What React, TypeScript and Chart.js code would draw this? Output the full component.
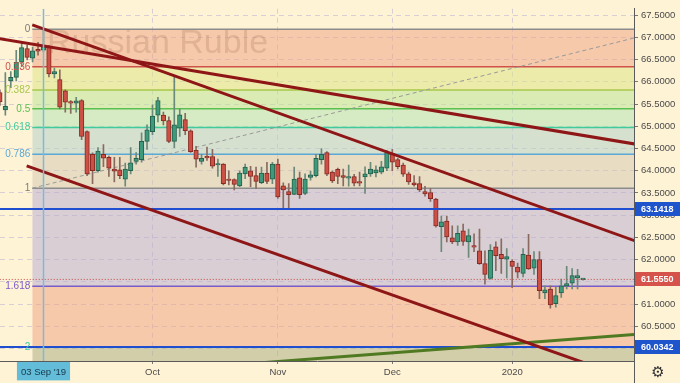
import React, { useEffect, useRef } from 'react';
import { Chart, registerables } from 'chart.js';

Chart.register(...registerables);

const FONT = '"Liberation Sans", Arial, sans-serif';

// bar index of the first candle; bar 0 = 03 Sep '19 (one bar per trading day)
const FIRST_BAR = -8;

const opens = [
  65.76, 65.37, 66.02, 66.10, 66.44, 66.75, 66.53, 66.73, 66.71, 66.80,
  66.18, 66.05, 65.80, 65.55, 65.52, 65.58, 64.88, 64.37, 64.00, 64.37,
  64.30, 64.04, 64.02, 63.81, 64.00, 64.21, 64.25, 64.66, 64.88, 65.25,
  65.25, 65.13, 64.66, 64.96, 65.15, 64.90, 64.46, 64.21, 64.31, 64.32,
  64.13, 64.15, 63.80, 63.80, 63.66, 63.93, 64.00, 63.89, 63.73, 63.95,
  63.81, 64.15, 63.66, 63.53, 63.47, 63.84, 63.49, 63.85, 63.89, 64.25,
  64.41, 63.97, 64.03, 63.89, 63.83, 63.87, 63.75, 63.86, 63.93, 63.95,
  63.97, 64.06, 64.39, 64.25, 64.13, 63.93, 63.73, 63.71, 63.53, 63.51,
  63.36, 62.74, 62.87, 62.49, 62.40, 62.65, 62.40, 62.31, 62.20, 61.91,
  61.58, 62.29, 62.12, 62.01, 61.96, 61.83, 61.69, 62.10, 61.81, 62.00,
  61.25, 61.34, 61.01, 61.25, 61.41, 61.47, 61.59, 61.55,
];
const highs = [
  65.82, 66.21, 66.23, 66.71, 66.89, 66.82, 66.78, 66.89, 67.18, 66.82,
  66.31, 66.27, 65.82, 65.58, 65.65, 65.60, 64.90, 64.40, 64.52, 64.59,
  64.33, 64.30, 64.30, 64.17, 64.52, 64.41, 64.85, 65.03, 65.48, 65.65,
  65.32, 65.21, 66.13, 65.39, 65.29, 64.92, 64.55, 64.37, 64.53, 64.48,
  64.26, 64.16, 64.00, 63.82, 64.00, 64.15, 64.10, 64.08, 64.08, 64.19,
  64.19, 64.26, 63.73, 63.71, 64.08, 63.97, 63.93, 63.99, 64.37, 64.50,
  64.43, 64.00, 64.06, 64.04, 64.13, 63.92, 63.97, 64.09, 64.19, 64.11,
  64.21, 64.46, 64.48, 64.28, 64.17, 63.97, 63.89, 63.87, 63.65, 63.60,
  63.38, 62.98, 62.98, 62.76, 62.76, 62.80, 62.69, 62.58, 62.69, 62.20,
  62.34, 62.40, 62.47, 62.25, 62.00, 61.92, 62.25, 62.57, 62.18, 62.18,
  61.41, 61.41, 61.39, 61.56, 61.85, 61.80, 61.78, 61.58,
];
const lows = [
  65.47, 65.25, 65.87, 66.02, 66.34, 66.49, 66.45, 66.60, 66.67, 66.11,
  66.09, 65.39, 65.32, 65.29, 65.32, 64.70, 63.89, 63.71, 63.97, 64.09,
  63.87, 63.75, 63.82, 63.65, 63.93, 64.15, 64.19, 64.48, 64.81, 65.10,
  65.03, 64.63, 64.52, 64.77, 64.81, 64.41, 64.08, 64.15, 64.23, 64.06,
  63.87, 63.68, 63.68, 63.57, 63.64, 63.82, 63.64, 63.60, 63.71, 63.71,
  63.71, 63.38, 63.16, 63.16, 63.46, 63.38, 63.46, 63.79, 63.86, 64.15,
  63.89, 63.73, 63.71, 63.66, 63.65, 63.66, 63.66, 63.49, 63.87, 63.86,
  63.93, 64.00, 64.00, 64.04, 63.87, 63.69, 63.65, 63.53, 63.43, 63.31,
  62.73, 62.18, 62.40, 62.36, 62.32, 62.32, 62.05, 62.18, 61.89, 61.45,
  61.56, 61.75, 61.69, 61.59, 61.37, 61.59, 61.61, 61.78, 61.67, 61.12,
  61.12, 60.91, 60.93, 61.15, 61.34, 61.34, 61.34, 61.54,
];
const closes = [
  65.55, 65.45, 66.10, 66.44, 66.77, 66.55, 66.70, 66.69, 66.78, 66.18,
  66.23, 65.43, 65.54, 65.52, 65.57, 64.77, 63.93, 64.00, 64.44, 64.28,
  64.06, 63.99, 63.89, 64.04, 64.18, 64.28, 64.66, 64.92, 65.23, 65.58,
  65.12, 64.66, 65.03, 65.26, 64.90, 64.43, 64.26, 64.28, 64.29, 64.10,
  64.15, 63.71, 63.78, 63.69, 63.95, 64.08, 63.87, 63.76, 63.95, 63.76,
  64.15, 63.41, 63.57, 63.46, 63.81, 63.46, 63.81, 63.91, 64.28, 64.37,
  63.92, 63.77, 63.87, 63.85, 63.87, 63.72, 63.72, 63.93, 64.04, 64.02,
  64.09, 64.41, 64.19, 64.09, 63.92, 63.75, 63.68, 63.57, 63.48, 63.37,
  62.76, 62.85, 62.51, 62.40, 62.59, 62.41, 62.54, 62.28, 61.91, 61.67,
  62.21, 62.09, 62.02, 62.07, 61.85, 61.72, 62.12, 61.79, 62.00, 61.30,
  61.32, 60.98, 61.19, 61.41, 61.46, 61.64, 61.64, 61.56,
];

const X_MIN = -7.98;
const X_MAX = 108.35;
const Y_MIN = 59.72;
const Y_MAX = 67.645;

const monthTickBars = [20, 43, 64, 86];
const monthTickLabels = ['Oct', 'Nov', 'Dec', '2020'];
const cursorBar = 0;
const cursorLabel = "03 Sep '19";

const priceTicks = [60, 60.5, 61, 61.5, 62, 62.5, 63, 63.5, 64, 64.5, 65, 65.5, 66, 66.5, 67, 67.5];

const fibLevels = [0, 0.236, 0.382, 0.5, 0.618, 0.786, 1, 1.618, 2];
const fibLabels = ['0', '0.236', '0.382', '0.5', '0.618', '0.786', '1', '1.618', '2'];
const fibLineColors = ['#8c8c8c', '#d0504a', '#a9c84a', '#5cc050', '#3fcb9c', '#5aa8d6', '#8c8c8c', '#7a5cc8', '#3fc8a0'];
const fibFillColors = [
  'rgba(0,0,0,0)',
  'rgba(237,165,134,0.55)',
  'rgba(221,227,134,0.55)',
  'rgba(188,230,152,0.55)',
  'rgba(180,227,180,0.55)',
  'rgba(180,208,203,0.55)',
  'rgba(213,201,181,0.55)',
  'rgba(184,174,210,0.55)',
  'rgba(237,165,134,0.55)',
];
const fibBottomFill = 'rgba(173,174,134,0.55)';
const fibAnchorLow = { x: -2.06, y: 63.607 };
const fibAnchorHigh = { x: 114.7, y: 67.18 };

const supportLevels = [63.1418, 60.0342];
const lastPrice = 61.555;

const trendA = [{ x: -10, y: 67.01 }, { x: 112, y: 64.53 }];
const trendB = [{ x: -2.06, y: 67.28 }, { x: 112, y: 62.27 }];
const trendC = [{ x: -3.09, y: 64.11 }, { x: 105, y: 59.43 }];
const trendGreen = [{ x: 40, y: 59.68 }, { x: 112, y: 60.35 }];

const title = 'Russian Ruble';

const fibPrice = (lvl: number) => fibAnchorHigh.y - lvl * (fibAnchorHigh.y - fibAnchorLow.y);

export default function App() {
  const ref = useRef<HTMLCanvasElement>(null);

  useEffect(() => {
    document.body.style.margin = '0';
    const canvas = ref.current!;
    const bars = opens.map((_, k) => FIRST_BAR + k);
    const up = closes.map((c, k) => c >= opens[k]);

    const datasets: any[] = [];
    fibLevels.forEach((lvl, k) => {
      const p = fibPrice(lvl);
      datasets.push({
        type: 'line',
        data: [{ x: fibAnchorLow.x, y: p }, { x: fibAnchorHigh.x, y: p }],
        borderColor: fibLineColors[k],
        borderWidth: 1.5,
        pointRadius: 0,
        fill: k === 0 ? false : '-1',
        backgroundColor: fibFillColors[k],
        order: 60,
      });
    });
    const p2 = fibPrice(fibLevels[fibLevels.length - 1]);
    datasets.push({
      type: 'line',
      data: [{ x: fibAnchorLow.x, y: p2 }, { x: fibAnchorHigh.x, y: p2 }],
      borderWidth: 0,
      borderColor: 'rgba(0,0,0,0)',
      pointRadius: 0,
      fill: 'start',
      backgroundColor: fibBottomFill,
      order: 61,
    });
    // fib diagonal
    datasets.push({
      type: 'line',
      data: [fibAnchorLow, fibAnchorHigh],
      borderColor: '#9a9a9a',
      borderWidth: 1,
      borderDash: [4, 3],
      pointRadius: 0,
      fill: false,
      order: 55,
    });
    // wicks
    datasets.push({
      type: 'bar',
      data: bars.map((b, k) => ({ x: b, y: [lows[k], highs[k]] })),
      backgroundColor: up.map((u) => (u ? '#6b8a7a' : '#8a6a60')),
      borderWidth: 0,
      barThickness: 1,
      grouped: false,
      order: 50,
    });
    // bodies
    datasets.push({
      type: 'bar',
      data: bars.map((b, k) => ({ x: b, y: [opens[k], closes[k]] })),
      backgroundColor: up.map((u) => (u ? '#3f9a7c' : '#cc5046')),
      borderColor: up.map((u) => (u ? '#24604c' : '#862a22')),
      borderWidth: 1,
      borderSkipped: false,
      barThickness: 4.5,
      minBarLength: 1.5,
      grouped: false,
      order: 45,
    });
    // horizontal levels
    supportLevels.forEach((v) => {
      datasets.push({
        type: 'line',
        data: [{ x: X_MIN - 5, y: v }, { x: X_MAX + 5, y: v }],
        borderColor: '#1f4fd0',
        borderWidth: 2,
        pointRadius: 0,
        fill: false,
        order: 30,
      });
    });
    datasets.push({
      type: 'line',
      data: [{ x: X_MIN - 5, y: lastPrice }, { x: X_MAX + 5, y: lastPrice }],
      borderColor: '#c84a4a',
      borderWidth: 1,
      borderDash: [1, 2],
      pointRadius: 0,
      fill: false,
      order: 30,
    });
    // trend lines
    [trendA, trendB, trendC].forEach((t) => {
      datasets.push({
        type: 'line',
        data: t,
        borderColor: '#8e1616',
        borderWidth: 3,
        pointRadius: 0,
        fill: false,
        order: 20,
      });
    });
    datasets.push({
      type: 'line',
      data: trendGreen,
      borderColor: '#4f7a22',
      borderWidth: 3,
      pointRadius: 0,
      fill: false,
      order: 20,
    });
    // cursor vertical line
    datasets.push({
      type: 'line',
      data: [{ x: cursorBar, y: Y_MIN }, { x: cursorBar, y: Y_MAX }],
      borderColor: '#7db9dc',
      borderWidth: 1.5,
      pointRadius: 0,
      fill: false,
      order: 5,
    });

    const decorPlugin = {
      id: 'decor',
      beforeDraw(chart: any) {
        const { ctx } = chart;
        ctx.save();
        ctx.fillStyle = '#fff3d6';
        ctx.fillRect(0, 0, chart.width, chart.height);
        ctx.restore();
      },
      beforeDatasetsDraw(chart: any) {
        const { ctx, chartArea } = chart;
        ctx.save();
        ctx.beginPath();
        ctx.rect(chartArea.left, chartArea.top, chartArea.right - chartArea.left, chartArea.bottom - chartArea.top);
        ctx.clip();
        ctx.font = `34px ${FONT}`;
        ctx.fillStyle = 'rgba(150,90,60,0.2)';
        ctx.textAlign = 'left';
        ctx.textBaseline = 'alphabetic';
        ctx.fillText(title, 47, 53);
        ctx.restore();
      },
      afterDatasetsDraw(chart: any) {
        const { ctx, scales } = chart;
        const x0 = scales.x.getPixelForValue(fibAnchorLow.x);
        ctx.save();
        ctx.font = `10px ${FONT}`;
        ctx.textAlign = 'right';
        ctx.textBaseline = 'middle';
        fibLevels.forEach((lvl, k) => {
          const py = scales.y.getPixelForValue(fibPrice(lvl));
          ctx.fillStyle = fibLineColors[k] === '#8c8c8c' ? '#7a7a7a' : fibLineColors[k];
          ctx.fillText(fibLabels[k], x0 - 2, py);
        });
        ctx.restore();
      },
      afterDraw(chart: any) {
        const { ctx, chartArea, scales } = chart;
        const W = chart.width;
        const H = chart.height;
        ctx.save();
        ctx.strokeStyle = '#5a5a5a';
        ctx.lineWidth = 1;
        ctx.beginPath();
        ctx.moveTo(chartArea.right + 0.5, chartArea.bottom);
        ctx.lineTo(chartArea.right + 0.5, H);
        ctx.stroke();
        const tags = [
          { v: supportLevels[0], bg: '#1f55cc' },
          { v: lastPrice, bg: '#d5534a' },
          { v: supportLevels[1], bg: '#1f55cc' },
        ];
        tags.forEach((t) => {
          const py = scales.y.getPixelForValue(t.v);
          ctx.fillStyle = t.bg;
          ctx.fillRect(chartArea.right + 1, Math.round(py) - 7, W - chartArea.right - 1, 14);
          ctx.fillStyle = '#ffffff';
          ctx.font = `bold 9px ${FONT}`;
          ctx.textAlign = 'left';
          ctx.textBaseline = 'middle';
          ctx.fillText(t.v.toFixed(4), chartArea.right + 7, Math.round(py) + 0.5);
        });
        ctx.fillStyle = '#333333';
        ctx.font = '15px "DejaVu Sans"';
        ctx.textAlign = 'center';
        ctx.textBaseline = 'middle';
        ctx.fillText('\u2699', (chartArea.right + W) / 2 + 1, (chartArea.bottom + H) / 2 + 1);
        ctx.restore();
      },
    };

    const chart = new Chart(canvas, {
      type: 'bar',
      data: { datasets },
      options: {
        responsive: false,
        animation: false,
        events: [],
        layout: { padding: 0 },
        plugins: {
          legend: { display: false },
          tooltip: { enabled: false },
          filler: { drawTime: 'beforeDatasetsDraw' },
        } as any,
        scales: {
          x: {
            type: 'linear',
            min: X_MIN,
            max: X_MAX,
            offset: false,
            afterBuildTicks: (s: any) => {
              s.ticks = [{ value: cursorBar }, ...monthTickBars.map((v) => ({ value: v }))];
            },
            afterFit: (s: any) => {
              s.height = 22;
            },
            ticks: {
              autoSkip: false,
              maxRotation: 0,
              padding: 3,
              font: { family: FONT, size: 9.5 },
              color: (c: any) => (c.tick && c.tick.value === cursorBar ? '#16384a' : '#4a4a4a'),
              showLabelBackdrop: (c: any) => !!(c.tick && c.tick.value === cursorBar),
              backdropColor: '#63bcd8',
              backdropPadding: { top: 5, bottom: 2, left: 4, right: 4 },
              callback: (v: any) => {
                if (v === cursorBar) return cursorLabel;
                const k = monthTickBars.indexOf(v);
                return k >= 0 ? monthTickLabels[k] : '';
              },
            } as any,
            grid: {
              offset: false,
              color: (c: any) => (c.tick && c.tick.value === cursorBar ? 'rgba(0,0,0,0)' : 'rgba(140,140,210,0.35)'),
              tickColor: '#777',
              tickLength: 3,
            },
            border: { color: '#5a5a5a', dash: [5, 4] },
          },
          y: {
            type: 'linear',
            position: 'right',
            min: Y_MIN,
            max: Y_MAX,
            afterBuildTicks: (s: any) => {
              s.ticks = priceTicks.map((v) => ({ value: v }));
            },
            afterFit: (s: any) => {
              s.width = 46;
            },
            ticks: {
              padding: 3,
              font: { family: FONT, size: 9.5 },
              color: '#4a4a4a',
              callback: (v: any) => Number(v).toFixed(4),
            },
            grid: {
              color: 'rgba(140,140,210,0.35)',
              tickColor: '#777',
              tickLength: 4,
            },
            border: { color: '#5a5a5a', dash: [5, 4] },
          },
        } as any,
      },
      plugins: [decorPlugin],
    } as any);

    return () => chart.destroy();
  }, []);

  return (
    <div style={{ width: 680, height: 383 }}>
      <canvas ref={ref} width={680} height={383} style={{ display: 'block' }} />
    </div>
  );
}
